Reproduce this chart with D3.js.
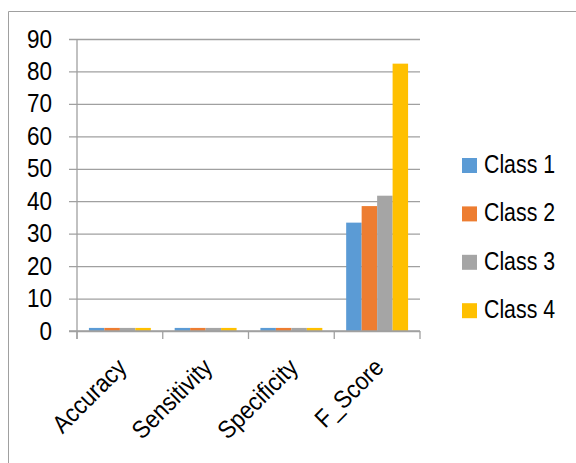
<!DOCTYPE html>
<html>
<head>
<meta charset="utf-8">
<script src="https://cdn.jsdelivr.net/npm/d3@7"></script>
<style>
  body { margin: 0; background: #fff; }
  text { font-family: "Liberation Sans", Arial, sans-serif; fill: #000; }
</style>
</head>
<body>
<div id="chart"></div>
<script>
const categories = ["Accuracy", "Sensitivity", "Specificity", "F_Score"]
const classes = ["Class 1", "Class 2", "Class 3", "Class 4"]
const colors = ["#5b9bd5", "#ed7d31", "#a5a5a5", "#ffc000"]
// values per class, one per category
const class1 = [0.95, 0.95, 0.95, 33.4]
const class2 = [0.95, 0.95, 0.95, 38.5]
const class3 = [0.95, 0.95, 0.95, 41.7]
const class4 = [0.95, 0.95, 0.95, 82.4]
const yTicks = [0, 10, 20, 30, 40, 50, 60, 70, 80, 90]

const series = [class1, class2, class3, class4]

const width = 576, height = 463
const plot = { left: 77, right: 420, top: 39, bottom: 331 }

const svg = d3.select("#chart").append("svg")
    .attr("width", width)
    .attr("height", height)

/* frame */
svg.append("path")
    .attr("d", `M8.5,${height} V11.5 H${width}`)
    .attr("fill", "none")
    .attr("stroke", "#a0a0a0")
    .attr("stroke-width", 1)

/* scales */
const x0 = d3.scaleBand()
    .domain(categories)
    .range([plot.left, plot.right])
    .padding(0)

const x1 = d3.scaleBand()
    .domain(classes)
    .range([0, x0.bandwidth()])
    .paddingInner(0)
    .paddingOuter(0.77)

const y = d3.scaleLinear()
    .domain([0, 90])
    .range([plot.bottom, plot.top])

/* grid + y labels (narrow-ish text via scaleX) */
const yAxis = d3.axisLeft(y)
    .tickValues(yTicks)
    .tickSize(-(plot.right - plot.left + 8))
    .tickPadding(19)

const yG = svg.append("g")
    .attr("transform", `translate(${plot.left - 8},0)`)
    .call(yAxis)
yG.select(".domain").remove()
yG.selectAll(".tick line").attr("stroke", "#a0a0a0").attr("stroke-width", 1.3)
yG.selectAll(".tick text")
    .style("font-size", "25px")
    .attr("transform", "scale(0.9,1)")
    .attr("fill", "#000")

/* bars */
const groups = svg.append("g").selectAll("g")
    .data(categories)
    .enter().append("g")
    .attr("transform", d => `translate(${x0(d)},0)`)

groups.selectAll("rect")
    .data((d, i) => classes.map((c, k) => ({ cls: c, k, value: series[k][i] })))
    .enter().append("rect")
    .attr("x", d => x1(d.cls))
    .attr("y", d => y(d.value))
    .attr("width", x1.bandwidth())
    .attr("height", d => y(0) - y(d.value))
    .attr("fill", d => colors[d.k])

/* axes lines */
svg.append("line")
    .attr("x1", plot.left).attr("x2", plot.left)
    .attr("y1", y(90)).attr("y2", y(0) + 8)
    .attr("stroke", "#a0a0a0").attr("stroke-width", 1.3)

svg.append("line")
    .attr("x1", plot.left - 8).attr("x2", plot.right)
    .attr("y1", y(0)).attr("y2", y(0))
    .attr("stroke", "#a0a0a0").attr("stroke-width", 1.3)

const tickXs = categories.map(d => x0(d)).concat([plot.right])
svg.append("g").selectAll("line")
    .data(tickXs)
    .enter().append("line")
    .attr("x1", d => d).attr("x2", d => d)
    .attr("y1", y(0)).attr("y2", y(0) + 8)
    .attr("stroke", "#a0a0a0").attr("stroke-width", 1.3)

/* x labels */
svg.append("g").selectAll("text")
    .data(categories)
    .enter().append("text")
    .attr("transform", d => `translate(${x0(d) + x0.bandwidth() / 2 + 8},${y(0) + 38}) rotate(-45) scale(0.9,1)`)
    .attr("text-anchor", "end")
    .style("font-size", "25px")
    .text(d => d)

/* legend */
const legend = svg.append("g").selectAll("g")
    .data(classes)
    .enter().append("g")
    .attr("transform", (d, i) => `translate(462,${165.5 + i * 48.4})`)

legend.append("rect")
    .attr("x", 0).attr("y", -7.5)
    .attr("width", 15).attr("height", 15)
    .attr("fill", (d, i) => colors[i])

legend.append("text")
    .attr("transform", "translate(22,7.5) scale(0.82,1)")
    .style("font-size", "26px")
    .text(d => d)
</script>
</body>
</html>
